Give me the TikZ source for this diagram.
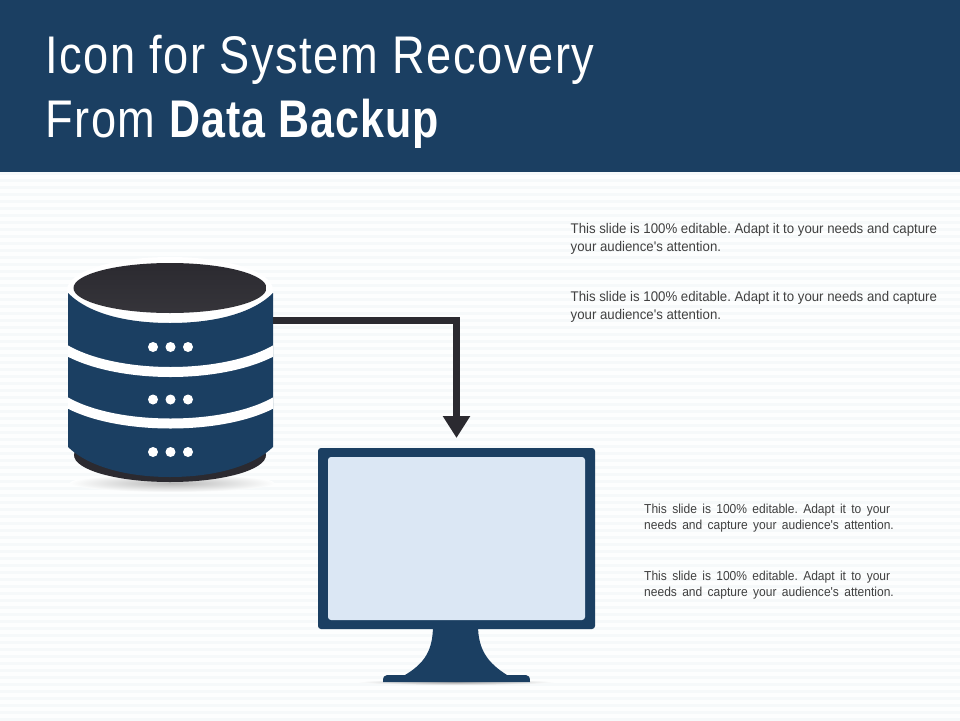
\documentclass[tikz,border=0pt]{standalone}
\usepackage{fontspec}
\setmainfont{Liberation Sans}
\newfontfamily\titlefont[FakeStretch=0.853,LetterSpace=3,BoldFeatures={FakeStretch=0.81,LetterSpace=2}]{Liberation Sans}
\newfontfamily\bodyfont[FakeStretch=0.945]{Liberation Sans}
\newfontfamily\bodyfonttwo[FakeStretch=0.925,WordSpace=1.6]{Liberation Sans}
\usetikzlibrary{arrows.meta}
\definecolor{navy}{HTML}{1B3F62}
\definecolor{ink}{HTML}{2B2A30}
\definecolor{screen}{HTML}{DBE7F4}
\definecolor{paper}{HTML}{FDFEFE}
\definecolor{stripe}{HTML}{F6F9FA}
\definecolor{bodytext}{HTML}{404040}
\tikzset{
  titletext/.style={anchor=north west,inner sep=0pt,text=white,align=left,font=\titlefont\fontsize{53}{64}\selectfont},
  note/.style={anchor=north west,inner sep=0pt,text=bodytext,align=left,font=\bodyfont\fontsize{14}{18.3}\selectfont\frenchspacing},
  notetwo/.style={anchor=north west,inner sep=0pt,text=bodytext,align=left,font=\bodyfonttwo\fontsize{13}{16}\selectfont\frenchspacing},
  band/.style={draw=white,line width=10pt},
  pip/.style={fill=white},
  flow/.style={draw=ink,line width=7.5pt,-{Triangle[length=22pt,width=26pt]}},
  anchorbox/.style={inner sep=0pt,minimum width=#1,outer sep=0pt}
}
\begin{document}
\begin{tikzpicture}[x=1pt,y=-1pt]
\useasboundingbox (0,0) rectangle (960,720);
\fill[paper] (0,0) rectangle (960,720);
\foreach \s in {0,7,...,546}{\fill[stripe] (0,172+\s) rectangle (960,175+\s);}
\fill[navy] (0,0) rectangle (960,172);
\node[titletext] (title) at (45,35) {Icon for System Recovery\\From {\bfseries Data Backup}};
% cylinder
\shade[inner color=black!28,outer color=paper] (172,483) ellipse [x radius=102,y radius=9];
\fill[ink] (170,455) ellipse [x radius=96,y radius=27];
\fill[white] (170,290) ellipse [x radius=103,y radius=33];
\fill[navy] (68,293) .. controls (90,315) and (130,323) .. (170,323) .. controls (210,323) and (251,315) .. (273,293)
  -- (273,447) .. controls (251,468) and (210,477) .. (170,477) .. controls (130,477) and (90,468) .. (68,447) -- cycle;
\shade[top color=ink,bottom color=ink!95!white] (170,288) ellipse [x radius=96.5,y radius=25];
\begin{scope}
\clip (68,300) rectangle (273,470);
\draw[band] (58,345) .. controls (85,364) and (130,372) .. (170.5,372) .. controls (211,372) and (256,364) .. (283,345);
\draw[band] (58,397) .. controls (85,416) and (130,423.5) .. (170.5,423.5) .. controls (211,423.5) and (256,416) .. (283,397);
\end{scope}
\foreach \yy in {347,399.5,452}{\foreach \xx in {153,170.5,188}{\fill[pip] (\xx,\yy) circle (5);}}
\node[anchorbox=205pt,minimum height=219pt] (db) at (170.5,372.5) {};
% monitor
\shade[inner color=black!35,outer color=paper] (456,682) ellipse [x radius=98,y radius=3];
\fill[navy] (433,625) .. controls (433,650) and (425,663) .. (405,675) -- (387,675) .. controls (384,675) and (383,677) .. (383,682)
  -- (530,682) .. controls (530,677) and (529,675) .. (526,675) -- (507,675) .. controls (488,663) and (478,650) .. (478,625) -- cycle;
\node[fill=navy,rounded corners=3pt,minimum width=277pt,minimum height=181pt,inner sep=0pt,outer sep=0pt] (monitor) at (456.5,538.5) {};
\node[fill=screen,rounded corners=3pt,minimum width=257pt,minimum height=163pt,inner sep=0pt,outer sep=0pt] (display) at (456.5,538.5) {};
% connector
\coordinate (dbout) at (db.east |- 0,320.5);
\draw[flow] (dbout) -| ([yshift=10pt]monitor.north);
% notes
\node[note] (n1) at (570.5,223) {This slide is 100\% editable. Adapt it to your needs and capture\\your audience's attention.};
\node[note] (n2) at (570.5,291) {This slide is 100\% editable. Adapt it to your needs and capture\\your audience's attention.};
\node[notetwo] (n3) at (644,504) {This slide is 100\% editable. Adapt it to your\\needs and capture your audience's attention.};
\node[notetwo] (n4) at (644,571) {This slide is 100\% editable. Adapt it to your\\needs and capture your audience's attention.};
\end{tikzpicture}
\end{document}
